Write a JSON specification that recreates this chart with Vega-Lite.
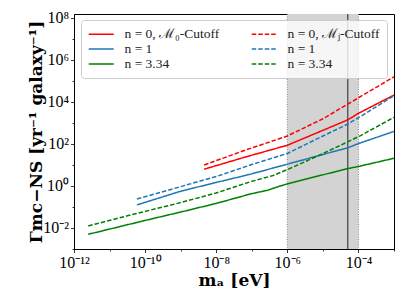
{
  "$schema": "https://vega.github.io/schema/vega-lite/v6.json",
  "width": 320,
  "height": 235,
  "autosize": {"type": "none"},
  "padding": {"left": 74, "top": 14, "right": 13, "bottom": 56},
  "background": "white",
  "config": {
    "view": {"stroke": "black", "strokeWidth": 1},
    "font": "Liberation Serif",
    "axis": {
      "domainColor": "black", "tickColor": "black", "labelColor": "black", "titleColor": "black",
      "labelFont": "Liberation Serif", "titleFont": "DejaVu Serif", "grid": false,
      "labelFontSize": 16, "titleFontSize": 16, "titleFontWeight": "bold", "tickWidth": 0.8, "domainWidth": 1
    }
  },
  "datasets": {
    "band": [{"start": 1e-6, "end": 1e-4}],
    "edges": [{"edge": 1e-6}, {"edge": 1e-4}],
    "marker": [{"line": 5.0e-5}],
    "curves": [
      {"series": "n0M0", "ma": 4.571e-9, "rate": 6.310},
      {"series": "n0M0", "ma": 6.607e-8, "rate": 23.99},
      {"series": "n0M0", "ma": 1e-6, "rate": 87.1},
      {"series": "n0M0", "ma": 1e-5, "rate": 446.7},
      {"series": "n0M0", "ma": 5.012e-5, "rate": 1413},
      {"series": "n0M0", "ma": 1e-4, "rate": 2884},
      {"series": "n0M0", "ma": 1e-3, "rate": 21380},

      {"series": "n0MJ", "ma": 4.571e-9, "rate": 10.0},
      {"series": "n0MJ", "ma": 6.607e-8, "rate": 51.29},
      {"series": "n0MJ", "ma": 1e-6, "rate": 239.9},
      {"series": "n0MJ", "ma": 1e-5, "rate": 1585},
      {"series": "n0MJ", "ma": 5.012e-5, "rate": 7943},
      {"series": "n0MJ", "ma": 1e-4, "rate": 15850},
      {"series": "n0MJ", "ma": 1e-3, "rate": 158490},

      {"series": "n1M0", "ma": 5.888e-11, "rate": 0.1259},
      {"series": "n1M0", "ma": 1e-9, "rate": 0.5623},
      {"series": "n1M0", "ma": 1e-8, "rate": 1.479},
      {"series": "n1M0", "ma": 9.120e-8, "rate": 3.631},
      {"series": "n1M0", "ma": 1e-6, "rate": 10.96},
      {"series": "n1M0", "ma": 1e-5, "rate": 31.62},
      {"series": "n1M0", "ma": 5.012e-5, "rate": 66.07},
      {"series": "n1M0", "ma": 1e-4, "rate": 104.7},
      {"series": "n1M0", "ma": 1e-3, "rate": 398.1},

      {"series": "n1MJ", "ma": 5.888e-11, "rate": 0.2399},
      {"series": "n1MJ", "ma": 1e-9, "rate": 0.9333},
      {"series": "n1MJ", "ma": 1e-8, "rate": 2.818},
      {"series": "n1MJ", "ma": 9.120e-8, "rate": 10.0},
      {"series": "n1MJ", "ma": 1e-6, "rate": 35.48},
      {"series": "n1MJ", "ma": 1e-5, "rate": 239.9},
      {"series": "n1MJ", "ma": 5.012e-5, "rate": 891.3},
      {"series": "n1MJ", "ma": 1e-4, "rate": 1778},
      {"series": "n1MJ", "ma": 1e-3, "rate": 19950},

      {"series": "n3M0", "ma": 2.512e-12, "rate": 0.005012},
      {"series": "n3M0", "ma": 1e-10, "rate": 0.02291},
      {"series": "n3M0", "ma": 1e-9, "rate": 0.05754},
      {"series": "n3M0", "ma": 1e-8, "rate": 0.1479},
      {"series": "n3M0", "ma": 9.120e-8, "rate": 0.4169},
      {"series": "n3M0", "ma": 2.818e-7, "rate": 0.6310},
      {"series": "n3M0", "ma": 6.310e-7, "rate": 1.0},
      {"series": "n3M0", "ma": 1e-6, "rate": 1.259},
      {"series": "n3M0", "ma": 3.162e-6, "rate": 2.089},
      {"series": "n3M0", "ma": 5.012e-5, "rate": 6.761},
      {"series": "n3M0", "ma": 1e-4, "rate": 8.511},
      {"series": "n3M0", "ma": 1e-3, "rate": 20.89},

      {"series": "n3MJ", "ma": 2.512e-12, "rate": 0.01259},
      {"series": "n3MJ", "ma": 3.162e-11, "rate": 0.03802},
      {"series": "n3MJ", "ma": 1e-9, "rate": 0.1622},
      {"series": "n3MJ", "ma": 1e-8, "rate": 0.4677},
      {"series": "n3MJ", "ma": 9.120e-8, "rate": 1.585},
      {"series": "n3MJ", "ma": 3.981e-7, "rate": 3.162},
      {"series": "n3MJ", "ma": 1e-6, "rate": 6.026},
      {"series": "n3MJ", "ma": 6.918e-6, "rate": 26.30},
      {"series": "n3MJ", "ma": 5.129e-5, "rate": 128.8},
      {"series": "n3MJ", "ma": 1.148e-4, "rate": 251.2},
      {"series": "n3MJ", "ma": 1e-3, "rate": 1862}
    ]
  },
  "layer": [
    {
      "data": {"name": "band"},
      "mark": {"type": "rect", "color": "#d3d3d3", "opacity": 1},
      "encoding": {
        "x": {"field": "start", "type": "quantitative", "scale": {"type": "log", "domain": [1e-12, 1e-3], "nice": false}},
        "x2": {"field": "end"}
      }
    },
    {
      "data": {"name": "edges"},
      "mark": {"type": "rule", "color": "#707070", "strokeWidth": 0.8, "strokeDash": [1, 1.5]},
      "encoding": {
        "x": {"field": "edge", "type": "quantitative"}
      }
    },
    {
      "data": {"name": "marker"},
      "mark": {"type": "rule", "color": "#555555", "strokeWidth": 1.4},
      "encoding": {
        "x": {"field": "line", "type": "quantitative"}
      }
    },
    {
      "data": {"name": "curves"},
      "mark": {"type": "line", "strokeWidth": 1.5, "clip": true},
      "encoding": {
        "x": {
          "field": "ma", "type": "quantitative",
          "scale": {"type": "log", "domain": [1e-12, 1e-3], "nice": false},
          "axis": {
            "title": "mₐ [eV]",
            "titleFontSize": 17,
            "values": [1e-12, 1e-11, 1e-10, 1e-9, 1e-8, 1e-7, 1e-6, 1e-5, 1e-4, 1e-3],
            "labelExpr": "round(log(datum.value)/LN10) == -12 ? '10⁻¹²' : round(log(datum.value)/LN10) == -10 ? '10⁻¹⁰' : round(log(datum.value)/LN10) == -8 ? '10⁻⁸' : round(log(datum.value)/LN10) == -6 ? '10⁻⁶' : round(log(datum.value)/LN10) == -4 ? '10⁻⁴' : ''",
            "tickSize": {"condition": {"test": "round(log(datum.value)/LN10) % 2 != 0", "value": 2}, "value": 3.5},
            "labelPadding": 2,
            "labelFlush": false,
            "labelOverlap": false,
            "titlePadding": 2
          }
        },
        "y": {
          "field": "rate", "type": "quantitative",
          "scale": {"type": "log", "domain": [0.001, 1.55e8], "nice": false},
          "axis": {
            "title": "Γmc−NS [yr⁻¹ galaxy⁻¹]",
            "titleFontSize": 17,
            "values": [1e-3, 1e-2, 1e-1, 1, 10, 100, 1000, 1e4, 1e5, 1e6, 1e7, 1e8],
            "labelExpr": "round(log(datum.value)/LN10) == -2 ? '10⁻²' : round(log(datum.value)/LN10) == 0 ? '10⁰' : round(log(datum.value)/LN10) == 2 ? '10²' : round(log(datum.value)/LN10) == 4 ? '10⁴' : round(log(datum.value)/LN10) == 6 ? '10⁶' : round(log(datum.value)/LN10) == 8 ? '10⁸' : ''",
            "tickSize": {"condition": {"test": "round(log(datum.value)/LN10) % 2 != 0", "value": 2}, "value": 3.5},
            "labelPadding": 2,
            "labelFlush": false,
            "labelOverlap": false,
            "titlePadding": -3
          }
        },
        "color": {
          "field": "series", "type": "nominal",
          "scale": {"domain": ["n0M0", "n1M0", "n3M0", "n0MJ", "n1MJ", "n3MJ"], "range": ["#ff0000", "#1f77b4", "#008000", "#ff0000", "#1f77b4", "#008000"]},
          "legend": {
            "title": null, "orient": "none", "legendX": 7, "legendY": 6, "columns": 2, "columnPadding": 28, "rowPadding": 1,
            "symbolType": "M-1,0H3", "symbolSize": 156.25, "symbolStrokeWidth": 1.5, "labelOffset": 22.5,
            "labelFont": "Liberation Serif", "labelFontSize": 13.5, "labelColor": "#222",
            "fillColor": "rgba(255,255,255,0.8)", "strokeColor": "#cccccc", "cornerRadius": 3, "padding": 7,
            "labelExpr": "datum.value == 'n0M0' ? 'n = 0, ℳ₀-Cutoff' : datum.value == 'n0MJ' ? 'n = 0, ℳⱼ-Cutoff' : datum.value == 'n1M0' || datum.value == 'n1MJ' ? 'n = 1' : 'n = 3.34'"
          }
        },
        "strokeDash": {
          "field": "series", "type": "nominal",
          "scale": {"domain": ["n0M0", "n1M0", "n3M0", "n0MJ", "n1MJ", "n3MJ"], "range": [[1, 0], [1, 0], [1, 0], [4.5, 2], [4.5, 2], [4.5, 2]]},
          "legend": {
            "title": null, "orient": "none", "legendX": 7, "legendY": 6, "columns": 2, "columnPadding": 28, "rowPadding": 1,
            "symbolType": "M-1,0H3", "symbolSize": 156.25, "symbolStrokeWidth": 1.5, "labelOffset": 22.5,
            "labelFont": "Liberation Serif", "labelFontSize": 13.5, "labelColor": "#222",
            "fillColor": "rgba(255,255,255,0.8)", "strokeColor": "#cccccc", "cornerRadius": 3, "padding": 7,
            "labelExpr": "datum.value == 'n0M0' ? 'n = 0, ℳ₀-Cutoff' : datum.value == 'n0MJ' ? 'n = 0, ℳⱼ-Cutoff' : datum.value == 'n1M0' || datum.value == 'n1MJ' ? 'n = 1' : 'n = 3.34'"
          }
        }
      }
    }
  ]
}
